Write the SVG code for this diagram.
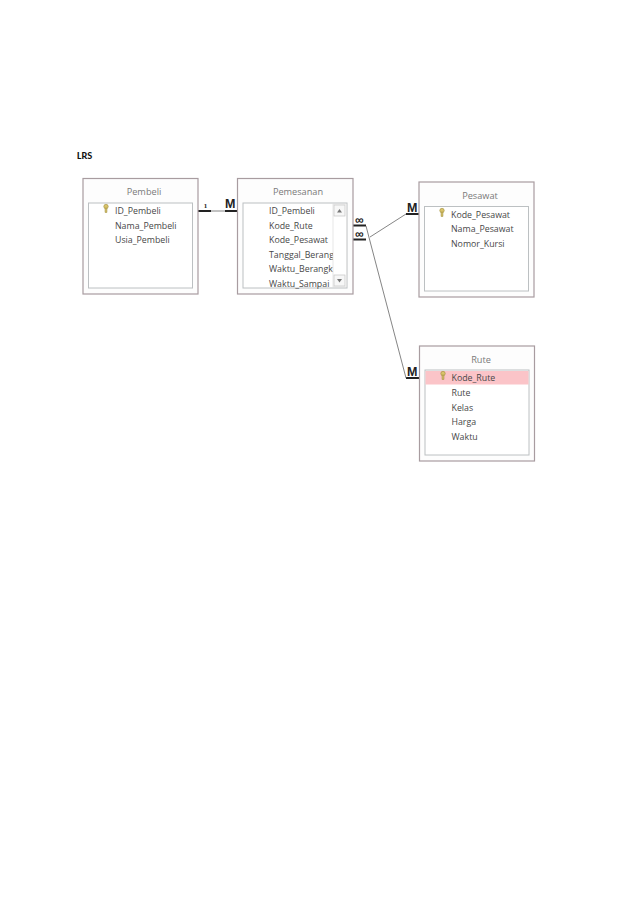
<svg xmlns="http://www.w3.org/2000/svg" width="638" height="903" viewBox="0 0 638 903">
<style>
.outer{fill:#fdfdfd;stroke:#a89ca0;stroke-width:1.2}
.inner{fill:#fff;stroke:#bcc0c2;stroke-width:1}
.title{font:9.2px "Open Sans","Liberation Sans",sans-serif;fill:#7a7a7a;text-anchor:middle}
.f{font:8.8px "Open Sans","Liberation Sans",sans-serif;fill:#484848}
.thick{stroke:#222;stroke-width:2;fill:none}
.thin{stroke:#777;stroke-width:.9;fill:none}
.m{font:bold 12.500px "Liberation Sans",sans-serif;fill:#222}
.inf{font:bold 12px "Liberation Sans",sans-serif;fill:#222;text-anchor:middle}
.one{font:bold 7px "Liberation Serif",serif;fill:#222;text-anchor:middle}
.key{fill:#d9c36a;stroke:#a08f3c;stroke-width:.6}
</style>
<defs>
<g id="k"><circle cx="0" cy="-2.5" r="2.2" class="key"/><path d="M-.9-1V3.4H.9V-1Z" class="key"/></g>
</defs>
<rect width="638" height="903" fill="#fff"/>
<text x="77" y="159" font-family="Carlito,'Open Sans','Liberation Sans',sans-serif" font-size="10.500" font-weight="bold" fill="#111">LRS</text>
<g id="connectors">
<path class="thin" d="M198 211H237"/>
<path class="thick" d="M198 211H211M225 211H237"/>
<path class="thick" d="M353 225.500H366M353 239.500H366M406 214H419M406 378H419"/>
<path class="thin" d="M370 237L406 214M366 226L406 378"/>
<text class="one" x="205.500" y="208">1</text>
<text class="m" x="225" y="207.500">M</text>
<text class="inf" x="359.500" y="223.500">∞</text>
<text class="inf" x="359.500" y="237.500">∞</text>
<text class="m" x="407" y="211.500">M</text>
<text class="m" x="407" y="376">M</text>
</g>
<g id="pembeli">
<rect class="outer" x="83" y="178.500" width="115" height="115.500"/>
<rect class="inner" x="88.500" y="203" width="104" height="85"/>
<text class="title" x="144" y="195">Pembeli</text>
<use href="#k" x="106" y="209"/>
<text class="f" x="115" y="214">ID_Pembeli</text>
<text class="f" x="115" y="228.500">Nama_Pembeli</text>
<text class="f" x="115" y="243">Usia_Pembeli</text>
</g>
<g id="pemesanan">
<rect class="outer" x="237.500" y="178.500" width="115.500" height="115.500"/>
<rect class="inner" x="243" y="203" width="104" height="85"/>
<text class="title" x="298" y="195">Pemesanan</text>
<text class="f" x="269" y="214">ID_Pembeli</text>
<text class="f" x="269" y="228.500">Kode_Rute</text>
<text class="f" x="269" y="243">Kode_Pesawat</text>
<text class="f" x="269" y="257.500">Tanggal_Berang</text>
<text class="f" x="269" y="272">Waktu_Berangk</text>
<text class="f" x="269" y="286.500">Waktu_Sampai</text>
<rect x="333" y="204" width="13.500" height="83" fill="#fff" stroke="#d8d8d8" stroke-width=".6"/>
<rect x="334" y="205" width="11" height="11" fill="#f7f7f7" stroke="#c4c4c4" stroke-width=".7"/>
<rect x="334" y="275" width="11" height="11" fill="#f7f7f7" stroke="#c4c4c4" stroke-width=".7"/>
<path d="M337 212.500L339.500 209L342 212.500Z" fill="#777"/>
<path d="M337 279L339.500 282.500L342 279Z" fill="#777"/>
</g>
<g id="pesawat">
<rect class="outer" x="419" y="182" width="115" height="115"/>
<rect class="inner" x="424.500" y="206.500" width="104" height="84.500"/>
<text class="title" x="480" y="199">Pesawat</text>
<use href="#k" x="442" y="213"/>
<text class="f" x="451" y="217.500">Kode_Pesawat</text>
<text class="f" x="451" y="232">Nama_Pesawat</text>
<text class="f" x="451" y="246.500">Nomor_Kursi</text>
</g>
<g id="rute">
<rect class="outer" x="419.500" y="346" width="115" height="115"/>
<rect class="inner" x="425" y="370" width="104" height="85"/>
<rect x="425.500" y="371" width="103" height="13.500" fill="#fbc4c8"/>
<text class="title" x="481" y="362.500">Rute</text>
<use href="#k" x="443" y="376"/>
<text class="f" x="451.500" y="381">Kode_Rute</text>
<text class="f" x="451.500" y="396">Rute</text>
<text class="f" x="451.500" y="410.500">Kelas</text>
<text class="f" x="451.500" y="425">Harga</text>
<text class="f" x="451.500" y="439.500">Waktu</text>
</g>
</svg>
